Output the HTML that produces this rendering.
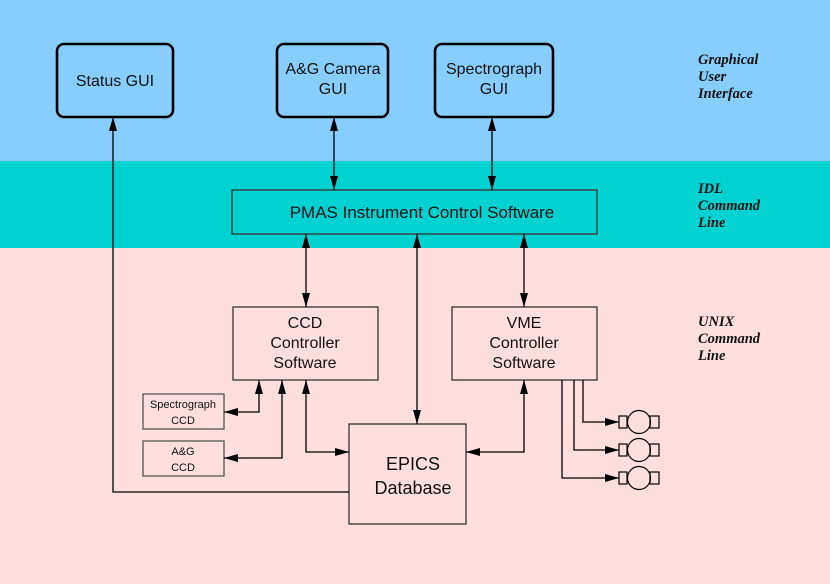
<!DOCTYPE html>
<html><head><meta charset="utf-8"><style>
html,body{margin:0;padding:0;width:830px;height:584px;overflow:hidden}
svg{display:block}
text{font-family:"Liberation Sans",sans-serif;fill:#111}
.it{font-family:"Liberation Serif",serif;font-style:italic;font-weight:bold;font-size:14.5px}
</style></head><body>
<svg width="830" height="584" viewBox="0 0 830 584" xmlns="http://www.w3.org/2000/svg">
<defs>
<marker id="a" viewBox="0 0 14 8" refX="14" refY="4" markerWidth="14" markerHeight="8" markerUnits="userSpaceOnUse" orient="auto-start-reverse"><path d="M0,0 L14,4 L0,8 z" fill="#000"/></marker>
</defs>
<rect x="0" y="0" width="830" height="161" fill="#87cefe"/>
<rect x="0" y="161" width="830" height="87" fill="#00d2d2"/>
<rect x="0" y="248" width="830" height="336" fill="#ffdede"/>

<g fill="none" stroke="#000" stroke-width="2.6">
<rect x="57" y="44" width="116" height="73" rx="7"/>
<rect x="277" y="44" width="111" height="73" rx="7"/>
<rect x="435" y="44" width="118" height="73" rx="7"/>
</g>
<g fill="none" stroke="#333" stroke-width="1.3">
<rect x="232" y="190" width="365" height="44"/>
<rect x="233" y="307" width="145" height="73"/>
<rect x="452" y="307" width="145" height="73"/>
<rect x="349" y="424" width="117" height="100"/>
<rect x="143" y="394" width="81" height="35" stroke="#555"/>
<rect x="143" y="441" width="81" height="35" stroke="#555"/>
</g>

<text x="115" y="86" font-size="16" text-anchor="middle">Status GUI</text>
<text x="333" y="74" font-size="16" text-anchor="middle">A&amp;G Camera</text>
<text x="333" y="94" font-size="16" text-anchor="middle">GUI</text>
<text x="494" y="74" font-size="16" text-anchor="middle">Spectrograph</text>
<text x="494" y="94" font-size="16" text-anchor="middle">GUI</text>
<text x="422" y="218" font-size="17" text-anchor="middle">PMAS Instrument Control Software</text>
<text x="305" y="328" font-size="16" text-anchor="middle">CCD</text>
<text x="305" y="348" font-size="16" text-anchor="middle">Controller</text>
<text x="305" y="368" font-size="16" text-anchor="middle">Software</text>
<text x="524" y="328" font-size="16" text-anchor="middle">VME</text>
<text x="524" y="348" font-size="16" text-anchor="middle">Controller</text>
<text x="524" y="368" font-size="16" text-anchor="middle">Software</text>
<text x="413" y="470" font-size="18" text-anchor="middle">EPICS</text>
<text x="413" y="494" font-size="18" text-anchor="middle">Database</text>
<text x="183" y="408" font-size="11" text-anchor="middle">Spectrograph</text>
<text x="183" y="424" font-size="11" text-anchor="middle">CCD</text>
<text x="183" y="455" font-size="11" text-anchor="middle">A&amp;G</text>
<text x="183" y="471" font-size="11" text-anchor="middle">CCD</text>

<text class="it" x="698" y="64">Graphical</text>
<text class="it" x="698" y="81">User</text>
<text class="it" x="698" y="98">Interface</text>
<text class="it" x="698" y="193">IDL</text>
<text class="it" x="698" y="210">Command</text>
<text class="it" x="698" y="227">Line</text>
<text class="it" x="698" y="326">UNIX</text>
<text class="it" x="698" y="343">Command</text>
<text class="it" x="698" y="360">Line</text>

<g fill="none" stroke="#000" stroke-width="1.3">
<path d="M334,117 V190" marker-start="url(#a)" marker-end="url(#a)"/>
<path d="M492,117 V190" marker-start="url(#a)" marker-end="url(#a)"/>
<path d="M349,492 H113 V117" marker-end="url(#a)"/>
<path d="M306,234 V307" marker-start="url(#a)" marker-end="url(#a)"/>
<path d="M417,234 V424" marker-start="url(#a)" marker-end="url(#a)"/>
<path d="M524,234 V307" marker-start="url(#a)" marker-end="url(#a)"/>
<path d="M259,380 V412 H224" marker-start="url(#a)" marker-end="url(#a)"/>
<path d="M282,380 V458 H224" marker-start="url(#a)" marker-end="url(#a)"/>
<path d="M306,380 V452 H349" marker-start="url(#a)" marker-end="url(#a)"/>
<path d="M524,380 V452 H466" marker-start="url(#a)" marker-end="url(#a)"/>
<path d="M583,380 V422 H619" marker-end="url(#a)"/>
<path d="M574,380 V450 H619" marker-end="url(#a)"/>
<path d="M562,380 V478 H619" marker-end="url(#a)"/>
</g>
<g fill="none" stroke="#000" stroke-width="1.2">
<rect x="619" y="416" width="8" height="12"/><circle cx="639" cy="422" r="11.5"/><rect x="650" y="416" width="9" height="12"/>
<rect x="619" y="444" width="8" height="12"/><circle cx="639" cy="450" r="11.5"/><rect x="650" y="444" width="9" height="12"/>
<rect x="619" y="472" width="8" height="12"/><circle cx="639" cy="478" r="11.5"/><rect x="650" y="472" width="9" height="12"/>
</g>
</svg>
</body></html>
